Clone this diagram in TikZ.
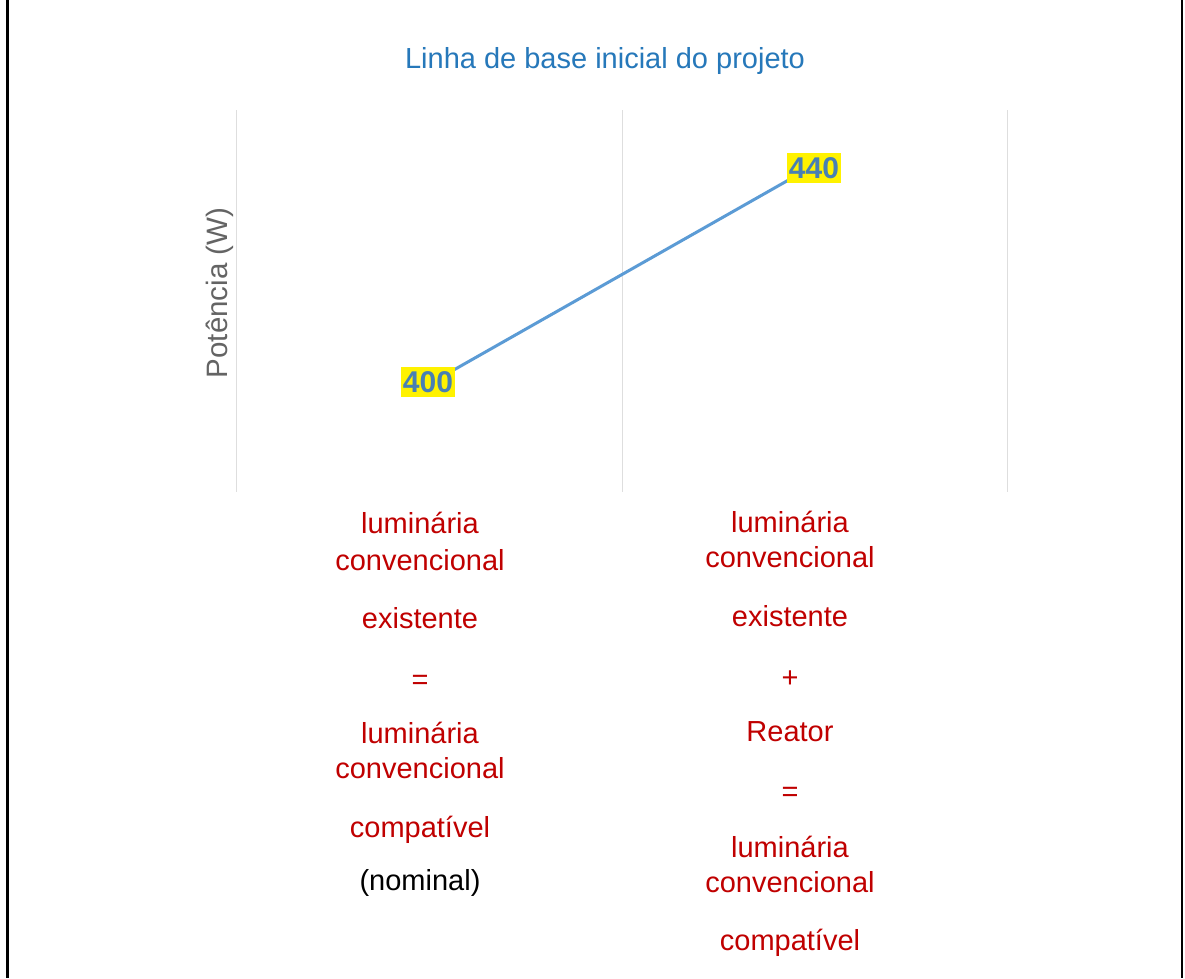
\documentclass[tikz,border=0pt]{standalone}
\usepackage{fontspec}
\setmainfont{Liberation Sans}
\definecolor{titleblue}{RGB}{38,120,186}
\definecolor{lineblue}{RGB}{91,155,213}
\definecolor{numblue}{RGB}{72,128,180}
\definecolor{redtxt}{RGB}{192,0,0}
\definecolor{gridgray}{RGB}{222,222,222}
\definecolor{axisgray}{RGB}{100,100,100}
\begin{document}
\begin{tikzpicture}[x=1pt,y=-1pt,
  grid/.style={draw=gridgray,line width=1pt},
  redlbl/.style={anchor=base,inner sep=0pt,text=redtxt,font=\fontsize{29}{34}\selectfont},
  blklbl/.style={anchor=base,inner sep=0pt,text=black,font=\fontsize{29}{34}\selectfont},
  datalbl/.style={fill=yellow,text=numblue,inner xsep=1.5pt,inner ysep=4pt,font=\fontsize{30}{34}\selectfont\bfseries},
  series/.style={draw=lineblue,line width=3pt}]
\useasboundingbox (0,0) rectangle (1185,978);
\fill[white] (0,0) rectangle (1185,978);
% frame
\draw[line width=3pt] (7,0) -- (7,978);
\draw[line width=2pt] (1182,0) -- (1182,978);
% title
\node[anchor=base,inner sep=0pt,text=titleblue,font=\fontsize{29}{34}\selectfont] (title) at (605,68) {Linha de base inicial do projeto};
% grid
\coordinate (g1t) at (236,110); \coordinate (g1b) at (236,492);
\coordinate (g2t) at (622,110); \coordinate (g2b) at (622,492);
\coordinate (g3t) at (1007,110); \coordinate (g3b) at (1007,492);
\draw[grid] (g1t) -- (g1b);
\draw[grid] (g2t) -- (g2b);
\draw[grid] (g3t) -- (g3b);
% axis label
\node[rotate=90,inner sep=0pt,text=axisgray,font=\fontsize{29.5}{32}\selectfont] (ylab) at (220,293) {Potência (W)};
% series
\coordinate (p1) at (429,384);
\coordinate (p2) at (815,165);
\draw[series] (p1) -- (p2);
\node[datalbl] (l1) at (428,382) {400};
\node[datalbl] (l2) at (814,168) {440};
% column 1
\node[redlbl] (a1) at (420,533) {luminária};
\node[redlbl] (a2) at (420,570) {convencional};
\node[redlbl] (a3) at (420,628) {existente};
\node[redlbl] (a4) at (420,689) {=};
\node[redlbl] (a5) at (420,743) {luminária};
\node[redlbl] (a6) at (420,778) {convencional};
\node[redlbl] (a7) at (420,837) {compatível};
\node[blklbl] (a8) at (420,890) {(nominal)};
% column 2
\node[redlbl] (b1) at (790,532) {luminária};
\node[redlbl] (b2) at (790,567) {convencional};
\node[redlbl] (b3) at (790,626) {existente};
\node[redlbl] (b4) at (790,687) {+};
\node[redlbl] (b5) at (790,741) {Reator};
\node[redlbl] (b6) at (790,801) {=};
\node[redlbl] (b7) at (790,857) {luminária};
\node[redlbl] (b8) at (790,892) {convencional};
\node[redlbl] (b9) at (790,950) {compatível};
\end{tikzpicture}
\end{document}
